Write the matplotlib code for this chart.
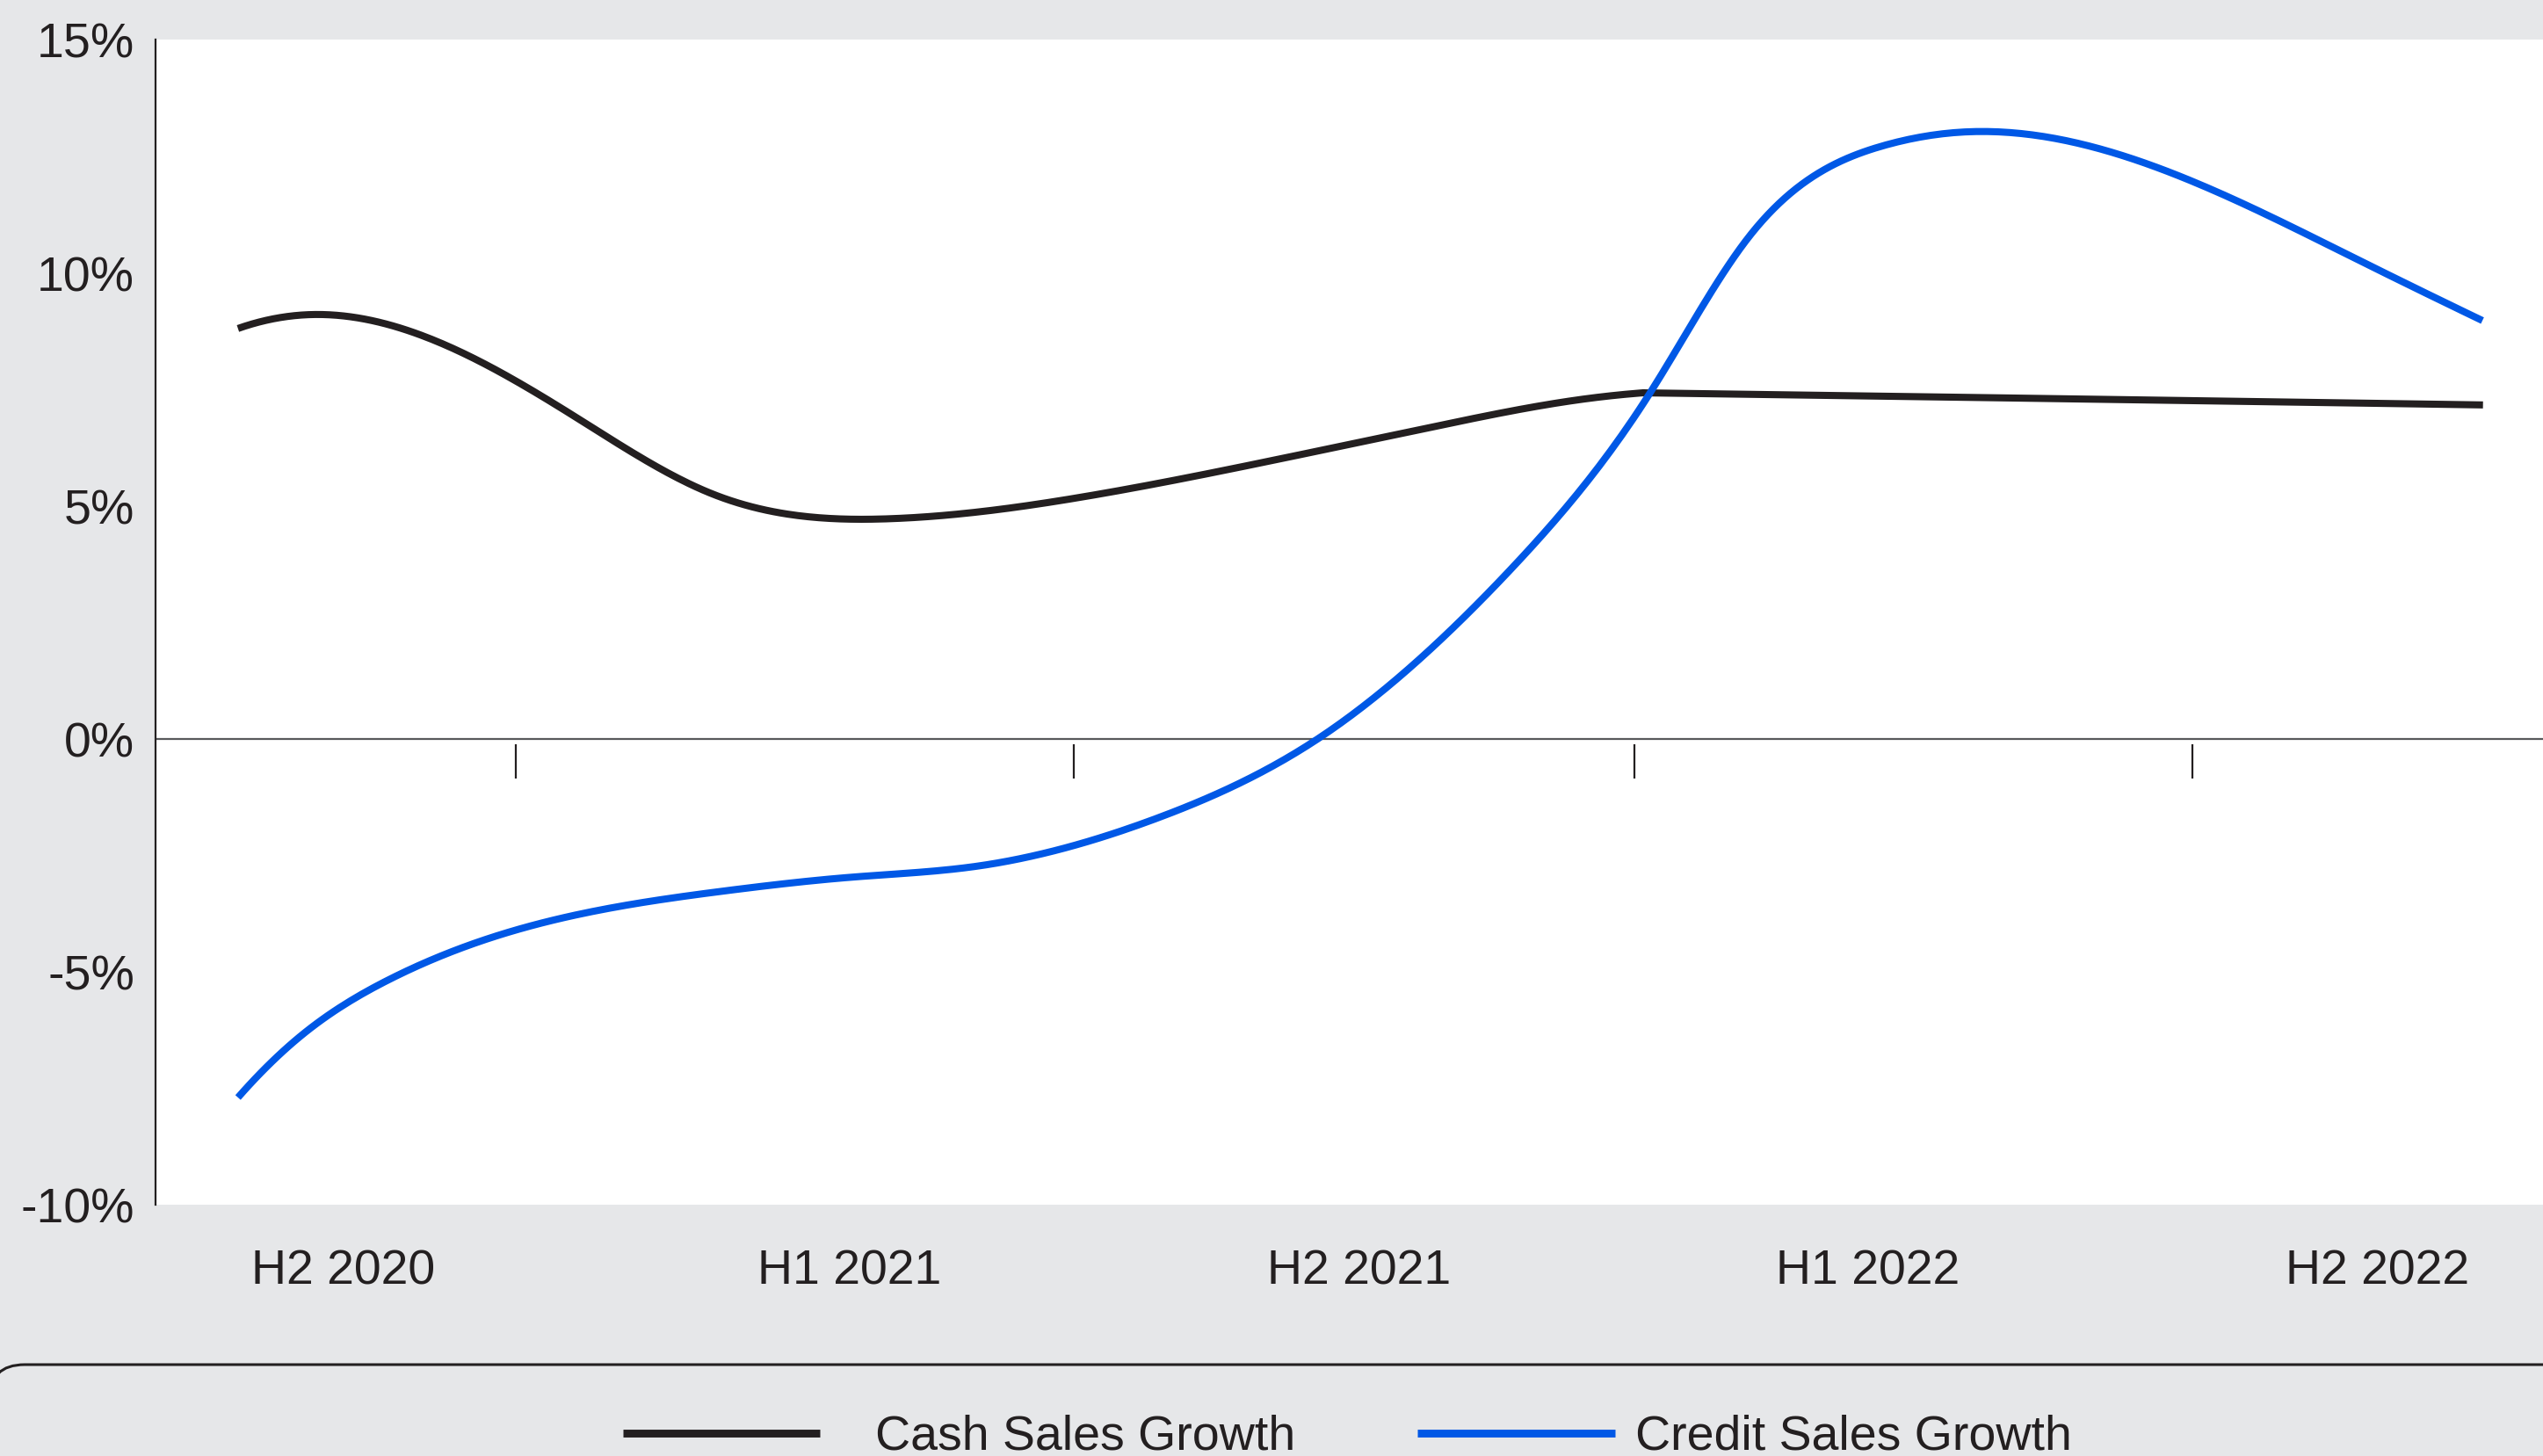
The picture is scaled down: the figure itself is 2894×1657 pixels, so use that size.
import numpy as np
import matplotlib; matplotlib.use("Agg")
import matplotlib.pyplot as plt
from matplotlib.lines import Line2D
from matplotlib.patches import FancyBboxPatch

INK, BLU, BG = "#231f20", "#0058e6", "#e6e7e9"

# x positions in half-year periods (0 = H2 2020 ... 4 = H2 2022), values in %
cash_x = [0.00, 0.135, 0.367, 0.606, 0.846, 1.166, 1.503, 1.861, 2.131,
          2.402, 2.505, 3.270, 4.003]
cash_y = [8.80, 9.10, 8.46, 6.87, 5.25, 4.72, 5.18, 6.01, 6.69,
          7.29, 7.42, 7.29, 7.16]
cash_breaks = [10]          # corner where the line turns flat
credit_x = [0.00, 0.118, 0.266, 0.467, 0.866, 1.097, 1.316, 1.647, 1.926,
            2.277, 2.519, 2.693, 2.933, 3.083, 3.423, 3.781, 4.002]
credit_y = [-7.70, -6.32, -5.19, -4.21, -3.27, -2.97, -2.74, -1.67, 0.00,
            3.73, 7.44, 10.75, 12.72, 13.02, 12.25, 10.27, 8.97]
credit_breaks = []
periods = ["H2 2020", "H1 2021", "H2 2021", "H1 2022", "H2 2022"]
label_pos = [0.188, 1.090, 1.999, 2.906, 3.815]
bounds = [0.495, 1.49, 2.49, 3.485]
yvals = [-10, -5, 0, 5, 10, 15]


def spline(x, y, n=400):
    # cubic spline, parabolic run-out at both ends
    x, y = np.asarray(x, float), np.asarray(y, float)
    h = np.diff(x); d = np.diff(y) / h
    M = np.zeros_like(y)
    k = len(x) - 2
    if k > 0:
        A = np.zeros((k, k))
        for i in range(k):
            A[i, i] = 2 * (h[i] + h[i + 1])
            if i > 0: A[i, i - 1] = h[i]
            if i < k - 1: A[i, i + 1] = h[i + 1]
        A[0, 0] += h[0]
        A[-1, -1] += h[-1]
        M[1:-1] = np.linalg.solve(A, 6 * (d[1:] - d[:-1]))
        M[0], M[-1] = M[1], M[-2]
    xs = np.linspace(x[0], x[-1], n)
    i = np.clip(np.searchsorted(x, xs) - 1, 0, len(x) - 2)
    a, b = x[i + 1] - xs, xs - x[i]
    ys = (M[i] * a**3 + M[i + 1] * b**3) / (6 * h[i]) \
        + (y[i] / h[i] - M[i] * h[i] / 6) * a \
        + (y[i + 1] / h[i] - M[i + 1] * h[i] / 6) * b
    return xs, ys


def smooth(x, y, breaks):
    cuts = [0] + breaks + [len(x) - 1]
    parts = [spline(x[s:e + 1], y[s:e + 1]) for s, e in zip(cuts[:-1], cuts[1:])]
    return np.concatenate([p[0] for p in parts]), np.concatenate([p[1] for p in parts])


plt.rcParams["font.family"] = ["Liberation Sans", "DejaVu Sans"]
W, H = 2894, 1658
fig = plt.figure(figsize=(W / 200, H / 200), dpi=200, facecolor=BG)
ax = fig.add_axes([177 / W, 1 - 1372 / H, 1 - 177 / W, 1326 / H])
ax.set_facecolor("white")

series = [("Cash Sales Growth", cash_x, cash_y, cash_breaks, INK),
          ("Credit Sales Growth", credit_x, credit_y, credit_breaks, BLU)]
for name, xv, yv, br, col in series:
    ax.plot(*smooth(xv, yv, br), color=col, lw=2.9, solid_capstyle="butt",
            label=name, zorder=3)
ax.axhline(0, color="#58595b", lw=0.8, zorder=2)
ax.vlines(bounds, -0.12, -0.86, color=INK, lw=0.8, zorder=2)

ax.set_xlim(-0.147, 4.11)
ax.set_ylim(-10, 15)
ax.set_yticks(yvals)
ax.set_yticklabels([f"{v}%" for v in yvals])
ax.set_xticks(label_pos)
ax.set_xticklabels(periods)
ax.tick_params(length=0, labelsize=20, colors=INK)
ax.tick_params(axis="y", pad=8.6)
ax.tick_params(axis="x", pad=18)
for sp in ["top", "right", "bottom"]:
    ax.spines[sp].set_visible(False)
ax.spines["left"].set_color(INK)
ax.spines["left"].set_linewidth(0.8)

# legend strip at the bottom: handles and labels placed by hand
for (name, *_, col), (x0, x1, tx) in zip(series, [(709, 933, 996),
                                                  (1613, 1838, 1861)]):
    fig.add_artist(Line2D([x0 / W, x1 / W], [1 - 1632 / H] * 2, color=col,
                          lw=3.2, solid_capstyle="butt",
                          transform=fig.transFigure))
    fig.text(tx / W, 8 / H, name, fontsize=20, color=INK,
             ha="left", va="baseline")
box = FancyBboxPatch((-12, -100), 3000, 204,
                     boxstyle="round,pad=0,rounding_size=40",
                     transform=None, fc="none", ec=INK, lw=1.1)
fig.patches.append(box)

fig.savefig("out.png", dpi=200, facecolor=BG)
